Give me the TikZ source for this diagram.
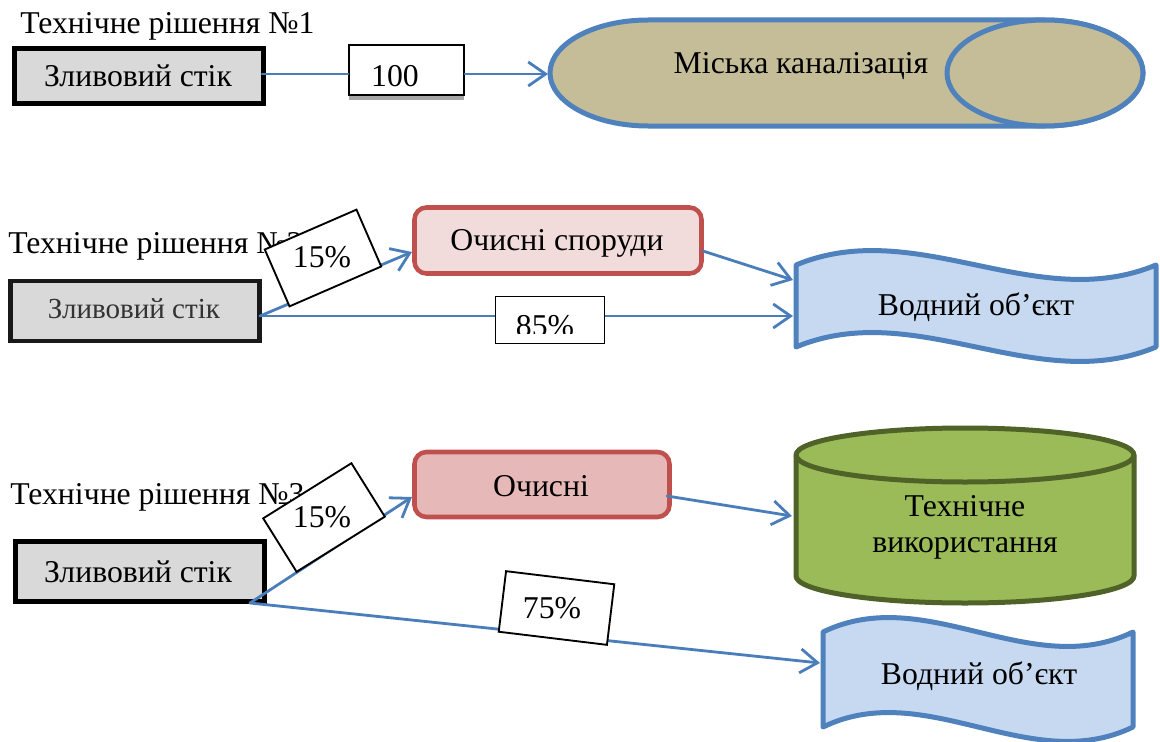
\documentclass[tikz,border=0pt]{standalone}
\usepackage{fontspec}
\setmainfont{Liberation Serif}
\usetikzlibrary{arrows.meta,shapes.geometric}
\definecolor{bluel}{HTML}{4A7EBB}
\definecolor{blueb}{HTML}{4F81BD}
\definecolor{redb}{HTML}{C0504D}
\definecolor{greenb}{HTML}{4F6228}
\definecolor{greenf}{HTML}{9BBB59}
\definecolor{tanf}{HTML}{C4BD97}
\definecolor{wavef}{HTML}{C6D9F1}
\definecolor{grayf}{HTML}{D9D9D9}
\tikzset{
  txt/.style={inner sep=0pt,font=\fontsize{23.8pt}{27pt}\selectfont,align=center},
  srcbox/.style={draw=black,fill=grayf,line width=3.75pt,inner sep=0pt,minimum width=#1*0.75pt,minimum height=55*0.75pt},
  cleanbox/.style={draw=redb,line width=3.4pt,rounded corners=9pt,inner sep=0pt},
  labelbox/.style={draw=black,fill=white,line width=1.4pt,inner sep=0pt},
  link/.style={draw=bluel,line width=2.1pt,line cap=round},
  flow/.style={link,-{Straight Barb[length=13pt,width=18pt,line width=2.1pt]}},
  wave/.style={draw=blueb,fill=wavef,line width=3.75pt,line join=round},
}
\begin{document}
\begin{tikzpicture}[x=0.75pt,y=-0.75pt]
\useasboundingbox (0,0) rectangle (1160,742);
\clip (0,0) rectangle (1160,742);
% titles
\node[txt,anchor=west] (t1) at (20,26) {Технічне рішення №1};
\node[txt,anchor=west] (t2) at (8,246) {Технічне рішення №2};
\node[txt,anchor=west] (t3) at (10,497) {Технічне рішення №3};
% solution 1
\node[srcbox=249] (s1) at (139,76) {};
\node[txt] at (138,76) {Зливовий стік};
\path[draw=blueb,fill=tanf,line width=3.75pt]
  (648,20) -- (1045,20) .. controls (1099,20) and (1143,44) .. (1143,73)
  .. controls (1143,102) and (1099,126) .. (1045,126) -- (648,126)
  .. controls (594,126) and (550,102) .. (550,73)
  .. controls (550,44) and (594,20) .. (648,20) -- cycle;
\node[ellipse,draw=blueb,fill=tanf,line width=3.75pt,inner sep=0pt,minimum width=196*0.75pt,minimum height=106*0.75pt] (cap) at (1045,73) {};
\node[txt] (captext) at (801,66) {Міська каналізація};
\coordinate (capin) at (548,74);
\coordinate (s1out) at (262,74);
\fill[black!35] (349,95) rectangle (464,100);
\node[labelbox,minimum width=115*0.75pt,minimum height=50*0.75pt] (l100) at (406.5,70) {};
\begin{scope}
\clip (350,46) rectangle (463,87);
\node[txt] at (395,76) {100};
\end{scope}
\draw[link] (s1out) -- (l100.west |- s1out);
\draw[flow] (l100.east |- capin) -- (capin);
% solution 2
\node[srcbox=249,draw=black!90,line width=3.4pt,minimum height=60*0.75pt] (s2) at (135,311) {};
\node[txt,font=\fontsize{21.8pt}{26pt}\selectfont,color=black!80] at (134,309) {Зливовий стік};
\node[cleanbox,fill=redb!20,minimum width=287*0.75pt,minimum height=66*0.75pt] (c2) at (558,240.5) {};
\node[txt] at (557,243) {Очисні споруди};
\path[wave] (796,265) .. controls (916,215) and (1036,315) .. (1156,265) -- (1156,347)
  .. controls (1036,397) and (916,297) .. (796,347) -- cycle;
\node[txt] (w2) at (976,307) {Водний об’єкт};
\coordinate (s2out) at (260,316);
\coordinate (c2in) at (412,252);
\coordinate (c2out) at (703,251);
\coordinate (w2a) at (793,280);
\coordinate (w2b) at (793,316);
\draw[flow] (s2out) -- (c2in);
\draw[flow] (s2out) -- (w2b);
\draw[flow] (c2out) -- (w2a);
\node[labelbox,rotate=23.5,minimum width=100*0.75pt,minimum height=62*0.75pt] (l15a) at (323,258) {};
\node[txt] at (322,257) {15\%};
\node[labelbox,minimum width=109*0.75pt,minimum height=47*0.75pt] (l85) at (550,320) {};
\begin{scope}
\clip (497,298) rectangle (603,333);
\node[txt] at (545,326) {85\%};
\end{scope}
% solution 3
\node[srcbox=249,minimum height=60*0.75pt] (s3) at (140,571) {};
\node[txt] at (138,572) {Зливовий стік};
\node[cleanbox,fill=redb!40,minimum width=255*0.75pt,minimum height=65*0.75pt] (c3) at (542,484.5) {};
\node[txt] at (541,486) {Очисні};
\path[draw=greenb,fill=greenf,line width=3.75pt,line join=round]
  (796,455) -- (796,576) .. controls (796,591) and (872,603) .. (965,603)
  .. controls (1058,603) and (1134,591) .. (1134,576) -- (1134,455)
  .. controls (1134,440) and (1058,428) .. (965,428)
  .. controls (872,428) and (796,440) .. (796,455) -- cycle;
\path[draw=greenb,line width=3.75pt]
  (796,455) .. controls (796,470) and (872,482) .. (965,482)
  .. controls (1058,482) and (1134,470) .. (1134,455);
\node[txt] (cyl) at (965,527) {Технічне\\використання};
\path[wave] (823,632) .. controls (926,582) and (1030,682) .. (1133,632) -- (1133,727)
  .. controls (1030,777) and (926,677) .. (823,727) -- cycle;
\node[txt] (w3) at (979,676) {Водний об’єкт};
\coordinate (s3out) at (250,603);
\coordinate (c3in) at (412,497);
\coordinate (c3out) at (667,496);
\coordinate (cylin) at (792,516);
\coordinate (w3in) at (820,663);
\draw[flow] (s3out) -- (c3in);
\draw[flow] (s3out) -- (w3in);
\draw[flow] (c3out) -- (cylin);
\node[labelbox,rotate=32,minimum width=104*0.75pt,minimum height=63*0.75pt] (l15b) at (324,517.5) {};
\node[txt] at (322,517) {15\%};
\node[labelbox,rotate=-6.9,minimum width=109*0.75pt,minimum height=61*0.75pt] (l75) at (556.5,608) {};
\node[txt] at (552,608) {75\%};
\end{tikzpicture}
\end{document}
